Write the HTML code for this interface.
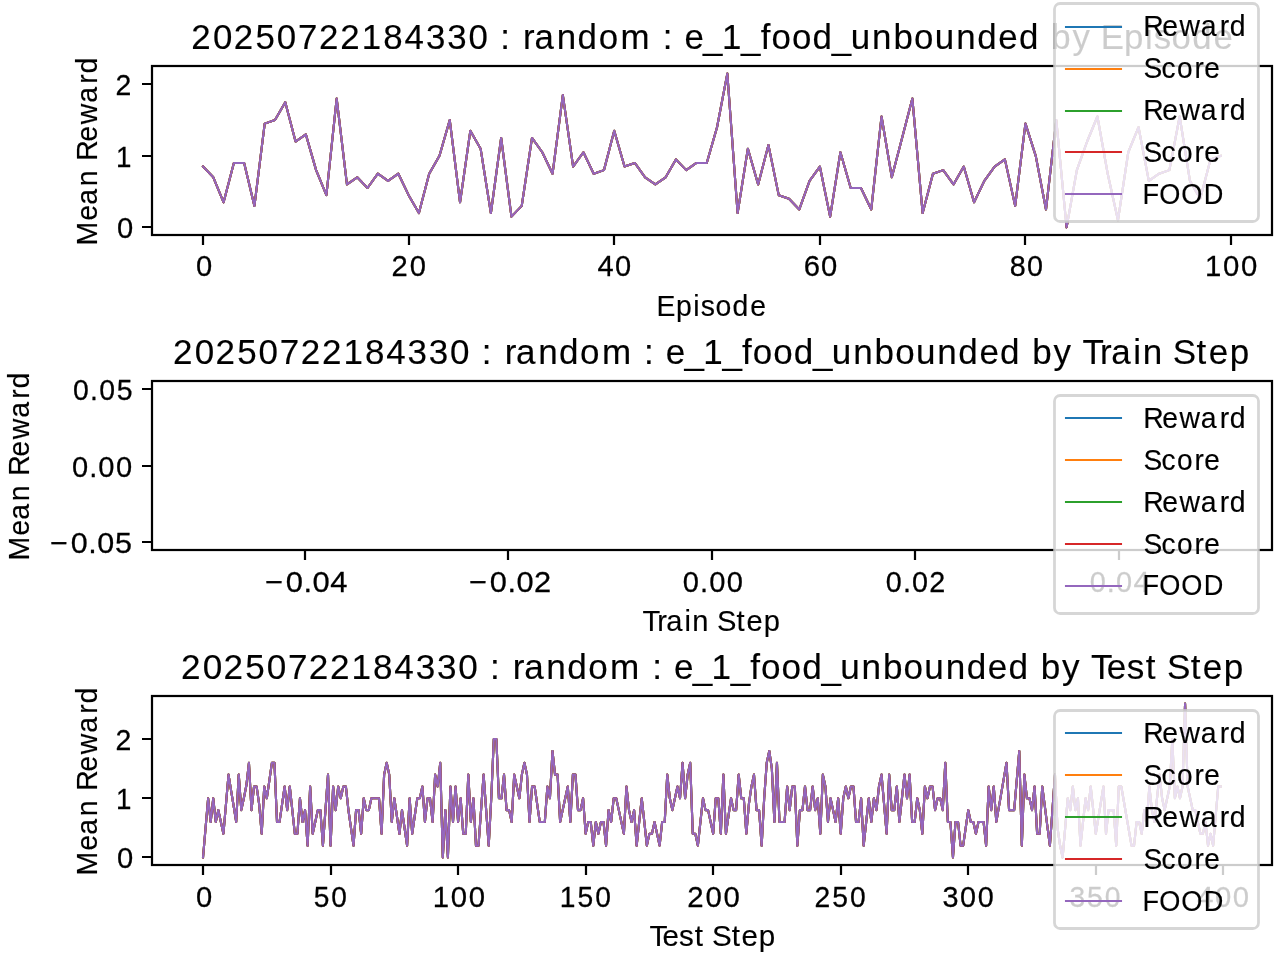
<!DOCTYPE html>
<html lang="en"><head><meta charset="utf-8"><title>Mean Reward plots</title>
<style>
html,body{margin:0;padding:0;background:#fff}
body{width:1280px;height:960px;overflow:hidden}
svg{display:block;will-change:transform}
text{font-family:"Liberation Sans",sans-serif;fill:#000;stroke:#000;stroke-width:.15px}
.tk text{stroke-width:.27px}
.sp{fill:none;stroke:#000;stroke-width:2.222;stroke-linecap:square;stroke-linejoin:miter}
.dl{fill:none;stroke-width:2.083;stroke-linejoin:round;stroke-linecap:square}
.lf{fill:#fff;fill-opacity:.8;stroke:#ccc;stroke-opacity:.8;stroke-width:2.778}
</style></head>
<body>
<svg width="1280" height="960" viewBox="0 0 1280 960">
<rect width="1280" height="960" fill="#fff"/>
<defs>
<clipPath id="c0"><rect x="152.14" y="65.891" width="1119.526" height="169.146"/></clipPath>
<path id="p0" d="M203.03,166.56 213.31,177.28 223.59,202.32 233.87,162.98 244.15,162.98 254.43,205.89 264.71,123.64 274.99,120.07 285.27,102.19 295.55,141.52 305.83,134.37 316.11,170.13 326.39,195.16 336.67,98.61 346.95,184.44 357.23,177.28 367.51,188.01 377.79,173.71 388.07,180.86 398.35,173.71 408.63,195.16 418.91,213.04 429.19,173.71 439.47,155.83 449.75,120.07 460.04,202.32 470.32,130.8 480.6,148.68 490.88,213.04 501.16,137.95 511.44,216.62 521.72,205.89 532,137.95 542.28,152.25 552.56,173.71 562.84,95.04 573.12,166.56 583.4,152.25 593.68,173.71 603.96,170.13 614.24,130.8 624.52,166.56 634.8,162.98 645.08,177.28 655.36,184.44 665.64,177.28 675.92,159.4 686.2,170.13 696.48,162.98 706.76,162.98 717.04,127.22 727.32,73.58 737.6,213.04 747.88,148.68 758.16,184.44 768.44,145.1 778.72,195.16 789.01,198.74 799.29,209.47 809.57,180.86 819.85,166.56 830.13,216.62 840.41,152.25 850.69,188.01 860.97,188.01 871.25,209.47 881.53,116.49 891.81,177.28 902.09,137.95 912.37,98.61 922.65,213.04 932.93,173.71 943.21,170.13 953.49,184.44 963.77,166.56 974.05,202.32 984.33,180.86 994.61,166.56 1004.89,159.4 1015.17,205.89 1025.45,123.64 1035.73,155.83 1046.01,209.47 1056.29,120.07 1066.57,227.35 1076.85,170.13 1087.13,141.52 1097.41,116.49 1107.69,173.71 1117.98,220.2 1128.26,152.25 1138.54,127.22 1148.82,180.86 1159.1,173.71 1169.38,170.13 1179.66,116.49 1189.94,180.86 1200.22,198.74 1210.5,159.4 1220.78,155.83"/>
<clipPath id="c1"><rect x="152.14" y="380.927" width="1119.526" height="169.146"/></clipPath>
<clipPath id="c2"><rect x="152.14" y="695.964" width="1119.526" height="169.146"/></clipPath>
<path id="p2" d="M203.03,857.42 205.58,827.85 208.13,798.28 210.68,821.94 213.23,798.28 215.78,821.94 218.33,810.11 220.88,821.94 223.43,833.77 225.98,804.19 228.53,774.62 231.09,790.59 233.64,805.97 236.19,821.94 238.74,774.62 241.29,810.11 243.84,798.28 246.39,785.27 248.94,762.79 251.49,810.11 254.04,786.45 256.59,786.45 259.14,804.19 261.69,833.77 264.25,786.45 266.8,798.28 269.35,780.54 271.9,762.79 274.45,762.79 277,821.94 279.55,821.94 282.1,804.19 284.65,786.45 287.2,810.11 289.75,786.45 292.3,810.11 294.85,833.77 297.41,833.77 299.96,798.28 302.51,821.94 305.06,810.11 307.61,845.59 310.16,786.45 312.71,833.77 315.26,821.94 317.81,810.11 320.36,810.11 322.91,845.59 325.46,810.11 328.01,774.62 330.56,845.59 333.12,786.45 335.67,810.11 338.22,786.45 340.77,798.28 343.32,786.45 345.87,786.45 348.42,810.11 350.97,827.85 353.52,845.59 356.07,810.11 358.62,810.11 361.17,833.77 363.72,798.28 366.28,810.11 368.83,810.11 371.38,798.28 373.93,798.28 376.48,798.28 379.03,798.28 381.58,833.77 384.13,774.62 386.68,762.79 389.23,774.62 391.78,821.94 394.33,798.28 396.88,816.02 399.44,833.77 401.99,810.11 404.54,827.85 407.09,845.59 409.64,798.28 412.19,833.77 414.74,816.02 417.29,798.28 419.84,798.28 422.39,786.45 424.94,821.94 427.49,798.28 430.04,798.28 432.6,821.94 435.15,774.62 437.7,786.45 440.25,762.79 442.8,857.42 445.35,810.11 447.9,857.42 450.45,786.45 453,821.94 455.55,786.45 458.1,821.94 460.65,798.28 463.2,833.77 465.75,833.77 468.31,774.62 470.86,821.94 473.41,798.28 475.96,845.59 478.51,845.59 481.06,810.11 483.61,774.62 486.16,810.11 488.71,845.59 491.26,798.28 493.81,739.14 496.36,739.14 498.91,798.28 501.47,798.28 504.02,774.62 506.57,810.11 509.12,810.11 511.67,821.94 514.22,774.62 516.77,786.45 519.32,798.28 521.87,774.62 524.42,762.79 526.97,774.62 529.52,821.94 532.07,786.45 534.63,786.45 537.18,804.19 539.73,821.94 542.28,821.94 544.83,821.94 547.38,786.45 549.93,798.28 552.48,750.97 555.03,774.62 557.58,774.62 560.13,821.94 562.68,810.11 565.23,798.28 567.79,786.45 570.34,821.94 572.89,774.62 575.44,774.62 577.99,810.11 580.54,810.11 583.09,798.28 585.64,833.77 588.19,821.94 590.74,821.94 593.29,845.59 595.84,821.94 598.39,833.77 600.94,821.94 603.5,821.94 606.05,845.59 608.6,810.11 611.15,821.94 613.7,798.28 616.25,798.28 618.8,810.11 621.35,821.94 623.9,833.77 626.45,786.45 629,810.11 631.55,821.94 634.1,810.11 636.66,845.59 639.21,821.94 641.76,798.28 644.31,821.94 646.86,845.59 649.41,833.77 651.96,833.77 654.51,821.94 657.06,833.77 659.61,845.59 662.16,821.94 664.71,821.94 667.26,774.62 669.82,798.28 672.37,810.11 674.92,798.28 677.47,786.45 680.02,798.28 682.57,762.79 685.12,798.28 687.67,774.62 690.22,762.79 692.77,833.77 695.32,833.77 697.87,845.59 700.42,821.94 702.98,798.28 705.53,810.11 708.08,810.11 710.63,821.94 713.18,833.77 715.73,798.28 718.28,798.28 720.83,833.77 723.38,774.62 725.93,833.77 728.48,816.02 731.03,798.28 733.58,810.11 736.13,810.11 738.69,774.62 741.24,798.28 743.79,798.28 746.34,833.77 748.89,804.19 751.44,786.45 753.99,774.62 756.54,810.11 759.09,810.11 761.64,845.59 764.19,798.28 766.74,762.79 769.29,750.97 771.85,768.71 774.4,821.94 776.95,762.79 779.5,821.94 782.05,821.94 784.6,821.94 787.15,786.45 789.7,810.11 792.25,786.45 794.8,786.45 797.35,845.59 799.9,810.11 802.45,810.11 805.01,786.45 807.56,810.11 810.11,810.11 812.66,786.45 815.21,810.11 817.76,798.28 820.31,833.77 822.86,774.62 825.41,786.45 827.96,821.94 830.51,798.28 833.06,810.11 835.61,821.94 838.17,798.28 840.72,833.77 843.27,798.28 845.82,786.45 848.37,798.28 850.92,786.45 853.47,786.45 856.02,821.94 858.57,821.94 861.12,798.28 863.67,845.59 866.22,821.94 868.77,798.28 871.32,821.94 873.88,798.28 876.43,810.11 878.98,786.45 881.53,774.62 884.08,804.19 886.63,833.77 889.18,774.62 891.73,810.11 894.28,810.11 896.83,786.45 899.38,821.94 901.93,798.28 904.48,774.62 907.04,798.28 909.59,774.62 912.14,821.94 914.69,821.94 917.24,798.28 919.79,810.11 922.34,833.77 924.89,786.45 927.44,798.28 929.99,786.45 932.54,786.45 935.09,810.11 937.64,798.28 940.2,798.28 942.75,810.11 945.3,762.79 947.85,821.94 950.4,821.94 952.95,857.42 955.5,821.94 958.05,821.94 960.6,845.59 963.15,845.59 965.7,827.85 968.25,810.11 970.8,821.94 973.36,821.94 975.91,833.77 978.46,821.94 981.01,821.94 983.56,821.94 986.11,845.59 988.66,786.45 991.21,810.11 993.76,786.45 996.31,821.94 998.86,807.15 1001.41,792.37 1003.96,777.58 1006.51,762.79 1009.07,810.11 1011.62,810.11 1014.17,810.11 1016.72,780.54 1019.27,750.97 1021.82,845.59 1024.37,774.62 1026.92,798.28 1029.47,798.28 1032.02,810.11 1034.57,786.45 1037.12,833.77 1039.67,833.77 1042.23,786.45 1044.78,805.97 1047.33,826.08 1049.88,845.59 1052.43,810.11 1054.98,774.62 1057.53,827.85 1060.08,845.59 1062.63,857.42 1065.18,827.85 1067.73,798.28 1070.28,810.11 1072.83,786.45 1075.39,810.11 1077.94,798.28 1080.49,845.59 1083.04,821.94 1085.59,798.28 1088.14,810.11 1090.69,786.45 1093.24,810.11 1095.79,833.77 1098.34,817.8 1100.89,802.42 1103.44,786.45 1105.99,833.77 1108.55,810.11 1111.1,810.11 1113.65,810.11 1116.2,845.59 1118.75,786.45 1121.3,786.45 1123.85,801.24 1126.4,816.02 1128.95,830.81 1131.5,845.59 1134.05,845.59 1136.6,821.94 1139.15,821.94 1141.71,833.77 1144.26,810.11 1146.81,821.94 1149.36,786.45 1151.91,810.11 1154.46,821.94 1157.01,798.28 1159.56,774.62 1162.11,798.28 1164.66,810.11 1167.21,798.28 1169.76,786.45 1172.31,739.14 1174.86,798.28 1177.42,786.45 1179.97,798.28 1182.52,786.45 1185.07,703.65 1187.62,786.45 1190.17,798.28 1192.72,810.11 1195.27,810.11 1197.82,821.94 1200.37,833.77 1202.92,833.77 1205.47,821.94 1208.02,845.59 1210.58,833.77 1213.13,845.59 1215.68,816.02 1218.23,786.45 1220.78,786.45"/>
</defs>
<g id="ax1">
<g class="dl" clip-path="url(#c0)"><use href="#p0" stroke="#1f77b4"/><use href="#p0" stroke="#ff7f0e"/><use href="#p0" stroke="#2ca02c"/><use href="#p0" stroke="#d62728"/><use href="#p0" stroke="#9467bd"/></g>
<path class="sp" style="stroke-linecap:butt" d="M203,235 V245 M409,235 V245 M614,235 V245 M820,235 V245 M1025,235 V245 M1231,235 V245 M152,227 H142 M152,156 H142 M152,84 H142"/>
<rect class="sp" x="152" y="66" width="1120" height="169"/>
<text transform="scale(0.987 1)" x="193.671 215.717 236.827 258.745 280.45 301.983 323.137 344.715 366.614 388.338 409.877 431.539 453.117 474.649 495.264 506.865 517.47 530.015 541.472 563.98 585.194 606.536 628.659 659.785 671.386 681.992 693.439 712.355 731.411 750.89 770.66 781.606 802.356 823.291 842.813 861.888 883.55 905.155 926.105 947.153 968.815 990.029 1011.499 1032.421 1053.226 1065.121 1086.748 1105.604 1115.162 1138.927 1160.115 1168.965 1186.97 1207.905 1229.375" y="49.167" font-size="35.333">20250722184330 : random : e_1_food_unbounded by Episode</text>
<text transform="scale(0.983 1)" x="667.95 687.732 705.297 712.755 727.789 745.241 763.151" y="316.236" font-size="28.889">Episode</text>
<text transform="translate(96.583 243) rotate(-90) scale(0.985 1)" x="-2.587 22.473 38.791 57.616 74.577 83.482 102.798 120.682 142.333 161.735 172.088" y="0" font-size="28.889">Mean Reward</text>
<g class="tk">
<text transform="scale(0.991 1)" x="197.772" y="275.583" font-size="29.444">0</text>
<text transform="scale(0.991 1)" x="395.09 413.589" y="275.583" font-size="29.444">20</text>
<text transform="scale(0.987 1)" x="605.329 623.146" y="275.583" font-size="29.444">40</text>
<text transform="scale(0.992 1)" x="810.269 827.725" y="275.583" font-size="29.444">60</text>
<text transform="scale(0.977 1)" x="1033.585 1051.293" y="275.583" font-size="29.444">80</text>
<text transform="scale(0.997 1)" x="1208.515 1226.689 1244.743" y="275.583" font-size="29.444">100</text>
<text transform="scale(0.991 1)" x="118.02" y="237.583" font-size="29.444">0</text>
<text transform="scale(0.942 1)" x="123.016" y="167" font-size="29.444">1</text>
<text transform="scale(0.965 1)" x="119.765" y="95" font-size="29.444">2</text>
</g>
<rect class="lf" x="1054.5" y="3.5" width="204" height="218" rx="5.556"/>
<path class="dl" stroke="#1f77b4" d="M1066,27 H1121"/>
<path class="dl" stroke="#ff7f0e" d="M1066,69 H1121"/>
<path class="dl" stroke="#2ca02c" d="M1066,111 H1121"/>
<path class="dl" stroke="#d62728" d="M1066,152 H1121"/>
<path class="dl" stroke="#9467bd" d="M1066,194 H1121"/>
<text transform="scale(0.983 1)" x="1163.029 1182.229 1199.969 1221.48 1240.767 1251.031" y="35.583" font-size="28.889">Reward</text>
<text transform="scale(0.974 1)" x="1174.091 1192.56 1208.321 1226.406 1236.394" y="77.583" font-size="28.889">Score</text>
<text transform="scale(0.983 1)" x="1163.029 1182.229 1199.969 1221.48 1240.767 1251.031" y="119.583" font-size="28.889">Reward</text>
<text transform="scale(0.974 1)" x="1174.091 1192.56 1208.321 1226.406 1236.394" y="161.583" font-size="28.889">Score</text>
<text transform="scale(0.941 1)" x="1214.183 1231.982 1255.268 1279.175" y="203.583" font-size="28.889">FOOD</text>
</g>
<g id="ax2">
<path class="sp" style="stroke-linecap:butt" d="M305,550 V560 M508,550 V560 M712,550 V560 M915,550 V560 M1119,550 V560 M152,542 H142 M152,466 H142 M152,389 H142"/>
<rect class="sp" x="152" y="381" width="1120" height="169"/>
<text transform="scale(0.991 1)" x="174.594 196.528 217.531 239.339 260.934 282.359 303.406 324.874 346.66 368.278 389.708 411.261 432.73 454.152 474.713 486.231 496.807 509.254 520.634 543.033 564.141 585.373 607.36 638.403 649.921 660.498 671.837 690.659 709.615 728.999 748.692 759.559 780.204 801.036 820.458 839.436 860.988 882.483 903.329 924.271 945.823 966.931 988.292 1009.109 1029.857 1041.64 1063.165 1081.971 1092.254 1110.071 1121.451 1143.652 1153.225 1173.662 1183.478 1207.478 1219.651 1240.854" y="364.167" font-size="35.333">20250722184330 : random : e_1_food_unbounded by Train Step</text>
<text transform="scale(1.008 1)" x="637.479 651.927 661.1 679.118 686.811 703.429 711.268 730.742 740.547 757.697" y="631.236" font-size="28.889">Train Step</text>
<text transform="translate(28.583 558) rotate(-90) scale(0.985 1)" x="-2.587 22.473 38.791 57.616 74.577 83.482 102.798 120.682 142.333 161.735 172.088" y="0" font-size="28.889">Mean Reward</text>
<g class="tk">
<text transform="scale(1.051 1)" x="251.982 271.953 288.722 297.297 314.17" y="591.583" font-size="29.444">−0.04</text>
<text transform="scale(1.046 1)" x="448.163 468.266 485.12 493.78 510.423" y="591.583" font-size="29.444">−0.02</text>
<text transform="scale(0.989 1)" x="690.387 707.837 717.091 734.899" y="591.583" font-size="29.444">0.00</text>
<text transform="scale(0.977 1)" x="906.559 924.147 933.54 951.141" y="591.583" font-size="29.444">0.02</text>
<text transform="scale(0.985 1)" x="1106.296 1123.736 1132.981 1150.744" y="591.583" font-size="29.444">0.04</text>
<text transform="scale(1.036 1)" x="48.121 68.329 85.251 93.979 110.982" y="552.583" font-size="29.444">−0.05</text>
<text transform="scale(0.989 1)" x="72.696 90.145 99.4 117.208" y="476.583" font-size="29.444">0.00</text>
<text transform="scale(0.965 1)" x="75.71 93.389 102.873 120.88" y="399.583" font-size="29.444">0.05</text>
</g>
<rect class="lf" x="1054.5" y="395.5" width="204" height="218" rx="5.556"/>
<path class="dl" stroke="#1f77b4" d="M1066,418 H1121"/>
<path class="dl" stroke="#ff7f0e" d="M1066,460 H1121"/>
<path class="dl" stroke="#2ca02c" d="M1066,502 H1121"/>
<path class="dl" stroke="#d62728" d="M1066,544 H1121"/>
<path class="dl" stroke="#9467bd" d="M1066,586 H1121"/>
<text transform="scale(0.983 1)" x="1163.029 1182.229 1199.969 1221.48 1240.767 1251.031" y="427.583" font-size="28.889">Reward</text>
<text transform="scale(0.974 1)" x="1174.091 1192.56 1208.321 1226.406 1236.394" y="469.583" font-size="28.889">Score</text>
<text transform="scale(0.983 1)" x="1163.029 1182.229 1199.969 1221.48 1240.767 1251.031" y="511.583" font-size="28.889">Reward</text>
<text transform="scale(0.974 1)" x="1174.091 1192.56 1208.321 1226.406 1236.394" y="553.583" font-size="28.889">Score</text>
<text transform="scale(0.941 1)" x="1214.183 1231.982 1255.268 1279.175" y="594.583" font-size="28.889">FOOD</text>
</g>
<g id="ax3">
<g class="dl" clip-path="url(#c2)"><use href="#p2" stroke="#1f77b4"/><use href="#p2" stroke="#ff7f0e"/><use href="#p2" stroke="#2ca02c"/><use href="#p2" stroke="#d62728"/><use href="#p2" stroke="#9467bd"/></g>
<path class="sp" style="stroke-linecap:butt" d="M203,865 V875 M331,865 V875 M458,865 V875 M586,865 V875 M713,865 V875 M841,865 V875 M968,865 V875 M1096,865 V875 M1223,865 V875 M152,857 H142 M152,798 H142 M152,739 H142"/>
<rect class="sp" x="152" y="696" width="1120" height="169"/>
<text transform="scale(0.994 1)" x="182.123 204.003 224.954 246.708 268.249 289.62 310.615 332.03 353.761 375.326 396.703 418.203 439.618 460.987 481.521 492.998 503.561 515.96 527.302 549.647 570.704 591.882 613.802 644.805 656.282 666.845 678.132 696.907 715.815 735.151 754.807 765.636 786.229 807.01 826.383 845.314 866.813 888.253 909.048 929.938 951.437 972.494 993.801 1014.567 1035.287 1047.016 1068.49 1087.271 1097.502 1113.399 1133.655 1152.712 1164.255 1174.017 1197.975 1210.105 1231.255" y="679.167" font-size="35.333">20250722184330 : random : e_1_food_unbounded by Test Step</text>
<text transform="scale(1.023 1)" x="634.897 647.604 663.791 679.071 688.382 695.943 715.195 724.783 741.654" y="946.236" font-size="28.889">Test Step</text>
<text transform="translate(96.583 873) rotate(-90) scale(0.985 1)" x="-2.587 22.473 38.791 57.616 74.577 83.482 102.798 120.682 142.333 161.735 172.088" y="0" font-size="28.889">Mean Reward</text>
<g class="tk">
<text transform="scale(0.991 1)" x="197.772" y="906.583" font-size="29.444">0</text>
<text transform="scale(0.954 1)" x="328.932 347.343" y="906.583" font-size="29.444">50</text>
<text transform="scale(0.997 1)" x="434.008 452.183 470.236" y="906.583" font-size="29.444">100</text>
<text transform="scale(0.958 1)" x="584.415 602.825 621.336" y="906.583" font-size="29.444">150</text>
<text transform="scale(0.998 1)" x="688.543 706.937 724.941" y="906.583" font-size="29.444">200</text>
<text transform="scale(0.96 1)" x="848.348 866.981 885.434" y="906.583" font-size="29.444">250</text>
<text transform="scale(0.979 1)" x="962.731 980.705 998.717" y="906.583" font-size="29.444">300</text>
<text transform="scale(0.961 1)" x="1112.999 1131.203 1149.66" y="906.583" font-size="29.444">350</text>
<text transform="scale(0.996 1)" x="1202.076 1219.9 1237.692" y="906.583" font-size="29.444">400</text>
<text transform="scale(0.991 1)" x="118.02" y="867.583" font-size="29.444">0</text>
<text transform="scale(0.942 1)" x="123.016" y="809" font-size="29.444">1</text>
<text transform="scale(0.965 1)" x="119.765" y="750" font-size="29.444">2</text>
</g>
<rect class="lf" x="1054.5" y="710.5" width="204" height="218" rx="5.556"/>
<path class="dl" stroke="#1f77b4" d="M1066,733 H1121"/>
<path class="dl" stroke="#ff7f0e" d="M1066,775 H1121"/>
<path class="dl" stroke="#2ca02c" d="M1066,817 H1121"/>
<path class="dl" stroke="#d62728" d="M1066,859 H1121"/>
<path class="dl" stroke="#9467bd" d="M1066,901 H1121"/>
<text transform="scale(0.983 1)" x="1163.029 1182.229 1199.969 1221.48 1240.767 1251.031" y="742.583" font-size="28.889">Reward</text>
<text transform="scale(0.974 1)" x="1174.091 1192.56 1208.321 1226.406 1236.394" y="784.583" font-size="28.889">Score</text>
<text transform="scale(0.983 1)" x="1163.029 1182.229 1199.969 1221.48 1240.767 1251.031" y="826.583" font-size="28.889">Reward</text>
<text transform="scale(0.974 1)" x="1174.091 1192.56 1208.321 1226.406 1236.394" y="868.583" font-size="28.889">Score</text>
<text transform="scale(0.941 1)" x="1214.183 1231.982 1255.268 1279.175" y="910.583" font-size="28.889">FOOD</text>
</g>
</svg>
</body></html>
